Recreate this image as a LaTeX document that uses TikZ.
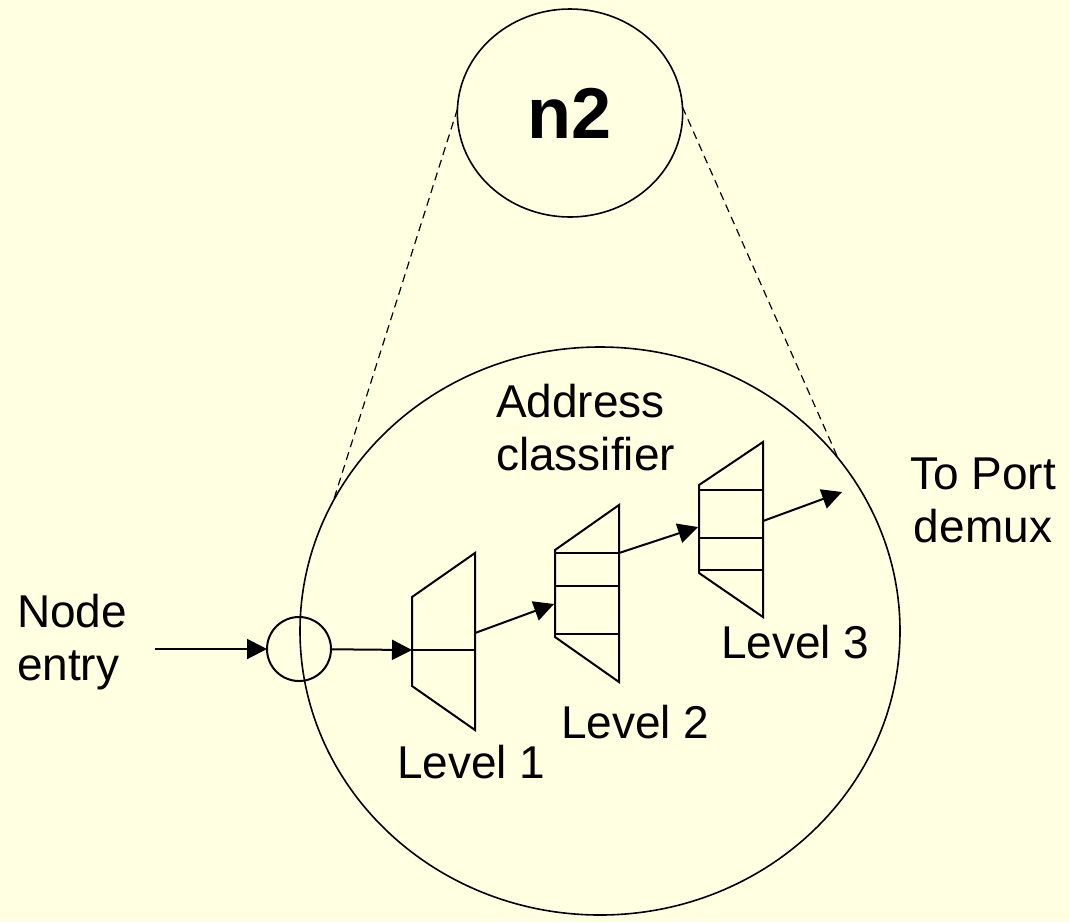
\documentclass[tikz,border=0pt]{standalone}
\usepackage{fontspec}
\setmainfont{Liberation Sans}
\usetikzlibrary{shapes.geometric,arrows.meta}
\definecolor{paper}{RGB}{255,255,226}

\begin{document}
\begin{tikzpicture}[x=0.75pt,y=-0.75pt,line width=1.5pt]
  \tikzstyle{lbl}      = [inner sep=0pt,align=left,font=\fontsize{34.5}{39.4}\selectfont]
  \tikzstyle{lblc}     = [inner sep=0pt,align=center,font=\fontsize{34.5}{39.4}\selectfont]
  \tikzstyle{blob}     = [ellipse,draw,line width=1.2pt,inner sep=0pt,outer sep=0pt]
  \tikzstyle{joint}    = [circle,draw,inner sep=0pt,outer sep=0pt,minimum size=48pt]
  \tikzstyle{sec}      = [-{Triangle[length=15pt,width=15pt]}]
  \tikzstyle{zoomline} = [line width=0.9pt,dash pattern=on 6pt off 4pt]
  \fill[paper] (0,0) rectangle (1069,922);
  \useasboundingbox (0,0) rectangle (1069,922);
  % node n2 and its enlarged view
  \path (570,113) node[blob,minimum width=169pt,minimum height=156pt,
        font=\fontsize{54}{60}\selectfont\bfseries](n2) {n2};
  \path (600,631) node[blob,minimum width=450pt,minimum height=426pt](view) {};
  \draw[zoomline] (n2.178) -- (view.154);
  \draw[zoomline] (n2.3) -- (view.36);
  \path (299,649) node[joint](entry) {};
  % classifier levels
  \draw (412,597) -- (475,553) -- (475,730) -- (412,686) -- cycle;
  \draw (412,650) -- (475,650);
  \draw (555,550) -- (619,505) -- (619,682) -- (555,637) -- cycle;
  \draw (555,553) -- (619,553);
  \draw (555,586) -- (619,586);
  \draw (555,634) -- (619,634);
  \draw (699,485) -- (763,442) -- (763,617) -- (699,573) -- cycle;
  \draw (699,490) -- (763,490);
  \draw (699,538) -- (763,538);
  \draw (699,570) -- (763,570);
  \coordinate (src)    at (155,649);
  \coordinate (lv1in)  at (412,650);
  \coordinate (lv1out) at (475,633);
  \coordinate (lv2in)  at (554,604);
  \coordinate (lv2out) at (619,553);
  \coordinate (lv3in)  at (698,527);
  \coordinate (lv3out) at (763,521);
  \coordinate (demux)  at (842,492);
  \draw[sec] (src)    -- (entry);
  \draw[sec] (entry)  -- (lv1in);
  \draw[sec] (lv1out) -- (lv2in);
  \draw[sec] (lv2out) -- (lv3in);
  \draw[sec] (lv3out) -- (demux);
  % labels
  \path (16,680)  node[lbl,anchor=base west](entrytxt) {Node\\entry};
  \path (495,470) node[lbl,anchor=base west](classtxt) {Address\\classifier};
  \path (983,542) node[lblc,anchor=base](porttxt) {To Port\\demux};
  \path (396,778) node[lbl,anchor=base west](lv1txt) {Level 1};
  \path (560,738) node[lbl,anchor=base west](lv2txt) {Level 2};
  \path (720,658) node[lbl,anchor=base west](lv3txt) {Level 3};
\end{tikzpicture}
\end{document}
